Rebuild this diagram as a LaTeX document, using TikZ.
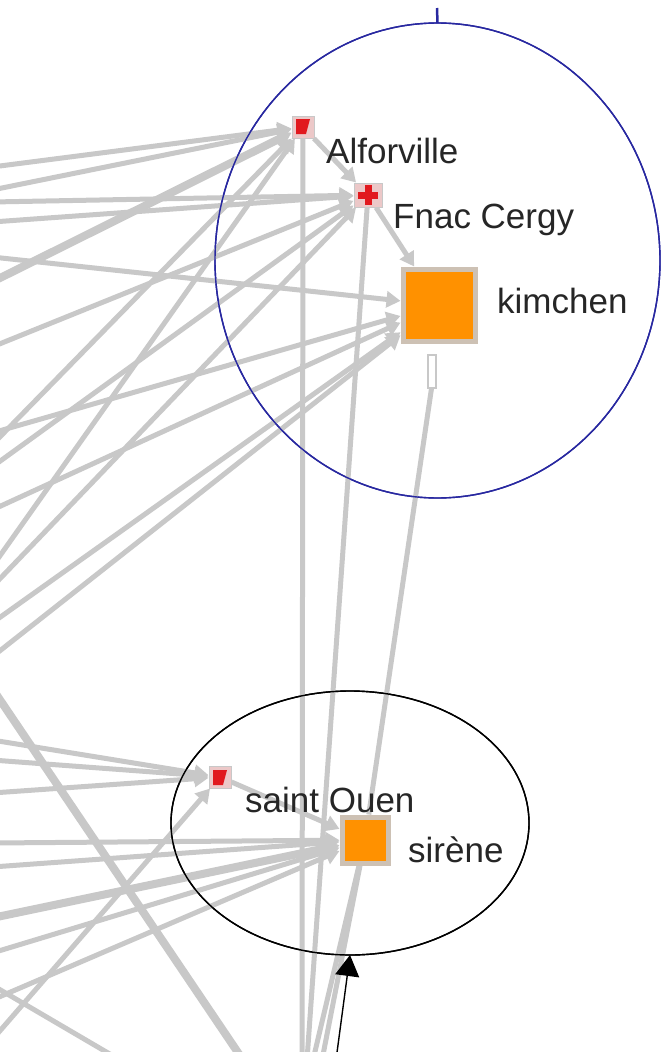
\documentclass[tikz,border=0pt]{standalone}
\usepackage{fontspec}
\setmainfont{Liberation Sans}
\usetikzlibrary{shapes.geometric,arrows.meta}
\definecolor{edgegray}{RGB}{200,200,200}
\definecolor{nodeorange}{RGB}{255,145,0}
\definecolor{nodered}{RGB}{225,25,30}
\definecolor{pinkbox}{RGB}{236,200,200}
\definecolor{grpblue}{RGB}{40,40,160}
\tikzset{
  edge/.style={draw=edgegray, line width=5pt},
  thickedge/.style={draw=edgegray, line width=8pt},
  tipedge/.style={edge, -{Triangle[length=14pt,width=16pt]}},
  smallnode/.style={rectangle, fill=pinkbox, draw=edgegray, line width=1pt, minimum size=22pt, inner sep=0pt},
  bignode/.style={rectangle, fill=nodeorange, draw=edgegray!90!orange, line width=5pt, inner sep=0pt},
  grp/.style={ellipse, draw, line width=1.4pt, inner sep=0pt, outer sep=0pt},
  lbl/.style={anchor=base west, inner sep=0pt, text=black!85, font=\fontsize{35}{40}\selectfont},
}
\begin{document}
\begin{tikzpicture}[x=1pt,y=-1pt]
\useasboundingbox (0,0) rectangle (661,1052);
\fill[white] (0,0) rectangle (661,1052);
\clip (0,0) rectangle (661,1052);

% nodes (placed first so edges can refer to them; drawn on top later)
\node[smallnode] (alf) at (303,127) {};
\node[smallnode, minimum width=28pt, minimum height=24pt] (fnac) at (368,195) {};
\node[bignode, minimum size=72pt] (kim) at (439,305) {};
\node[smallnode] (stou) at (220,777) {};
\node[bignode, minimum size=46pt] (sir) at (365,840) {};

% group ellipses
\node[grp, draw=grpblue, minimum width=445pt, minimum height=475pt] (grp1) at (437.5,260.5) {};
\node[grp, draw=black, minimum width=358pt, minimum height=264pt] (grp2) at (350,823) {};

% gray edges from the left (other end off-picture)
\foreach \y/\t [count=\i] in {167/alf,190/alf,202/fnac,222/fnac,257/kim,347/fnac,433/kim,445/alf,467/fnac,510/kim,567/alf,587/fnac,623/kim,657/kim,740/stou,760/stou,793/stou,843/sir,867/sir,953/sir,1000/sir,1040/stou}{
  \coordinate (l\i) at (-8,\y);
  \draw[tipedge] (l\i) -- (\t);
}
\coordinate (lt1) at (-8,282);
\draw[thickedge, -{Triangle[length=14pt,width=18pt]}] (lt1) -- (alf);
\coordinate (lt2) at (-8,918);
\draw[thickedge, -{Triangle[length=14pt,width=18pt]}] (lt2) -- (sir);
% crossing lines between off-picture nodes
\coordinate (x1a) at (-8,688);
\coordinate (x1b) at (243,1060);
\draw[thickedge] (x1a) -- (x1b);
\coordinate (x2a) at (-8,985);
\coordinate (x2b) at (120,1060);
\draw[edge] (x2a) -- (x2b);
% vertical lines to the bottom
\coordinate (b1) at (302,1060);
\coordinate (b2) at (307,1060);
\coordinate (b3) at (313,1060);
\coordinate (b4) at (322,1060);
\draw[edge] (alf) -- (b1);
\draw[edge] (fnac) -- (b2);
\draw[edge] (sir) -- (b3);
\draw[edge] (sir) -- (b4);
% chain edges
\draw[tipedge] (alf) -- (fnac);
\draw[tipedge] (fnac) -- (kim);
\draw[tipedge] (stou) -- (sir);
\coordinate (kb) at (432,385);
\draw[edge] (sir) -- (kb);
\draw[draw=edgegray, line width=2pt, fill=white] (428,355) rectangle (436,388);

% redraw groups on top of edges
\draw[grpblue, line width=1.4pt] (grp1.center) ellipse [x radius=222.5pt, y radius=237.5pt];
\draw[black, line width=1.4pt] (grp2.center) ellipse [x radius=179pt, y radius=132pt];

% nodes on top
\node[smallnode] at (alf) {};
\fill[nodered] (296,119) -- (310,119) -- (306,134) -- (296,134) -- cycle;
\node[smallnode, minimum width=28pt, minimum height=24pt] at (fnac) {};
\fill[nodered] (358,192) rectangle (378,199);
\fill[nodered] (364.5,185) rectangle (371.5,205);
\node[bignode, minimum size=72pt] at (kim) {};
\node[smallnode] at (stou) {};
\fill[nodered] (213,770) -- (227,770) -- (223,785) -- (213,785) -- cycle;
\node[bignode, minimum size=46pt] at (sir) {};

% labels
\node[lbl] (lalf) at (326,163) {Alforville};
\node[lbl] (lfnac) at (393,228) {Fnac Cergy};
\node[lbl] (lkim) at (497,313) {kimchen};
\node[lbl] (lstou) at (245,812) {saint Ouen};
\node[lbl] (lsir) at (408,862) {sirène};

% arrows into the groups
\coordinate (bt) at (437,8);
\draw[grpblue, line width=2.5pt] (bt) -- (grp1.north);
\coordinate (ab) at (336,1060);
\draw[black, line width=1.4pt, -{Triangle[length=21pt,width=24pt]}] (ab) -- (grp2.south);
\end{tikzpicture}
\end{document}
